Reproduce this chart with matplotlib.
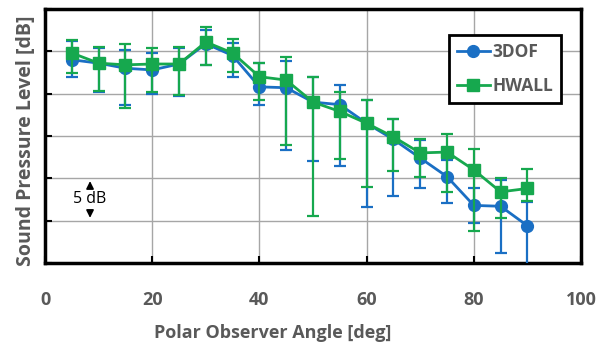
import matplotlib.pyplot as plt
from matplotlib.lines import Line2D
import numpy as np

angle = [5, 10, 15, 20, 25, 30, 35, 40, 45, 50, 55, 60, 65, 70, 75, 80, 85, 90]

# 3DOF
spl_3dof = [24.0, 23.6, 23.0, 22.8, 23.5, 25.9, 24.5, 20.8, 20.7, 19.0, 18.7, 16.5, 14.6, 12.4, 10.2, 6.8, 6.7, 4.4]
hi_3dof = [26.2, 25.4, 25.1, 24.8, 25.4, 27.5, 26.0, 23.6, 23.8, 22.0, 21.0, 19.2, 17.0, 14.5, 12.2, 8.9, 9.8, 7.2]
lo_3dof = [22.0, 20.2, 18.7, 19.9, 19.7, 23.4, 22.0, 18.7, 13.3, 12.1, 11.4, 6.6, 7.9, 8.9, 7.1, 4.7, 1.2, -0.5]

# HWALL
spl_hwall = [24.8, 23.6, 23.4, 23.5, 23.5, 26.1, 24.8, 22.0, 21.6, 19.0, 17.9, 16.5, 14.9, 13.0, 13.1, 11.0, 8.4, 8.8]
hi_hwall = [26.3, 25.5, 25.9, 25.4, 25.5, 27.9, 26.4, 23.6, 24.3, 22.0, 20.2, 19.2, 17.0, 14.6, 15.2, 13.5, 10.0, 11.1]
lo_hwall = [22.4, 20.3, 18.3, 20.2, 19.8, 23.4, 22.6, 19.2, 13.9, 5.5, 12.3, 9.0, 10.9, 10.2, 8.4, 3.8, 5.3, 7.3]

blue = '#1a6fc4'
green = '#16a84e'
grey = '#595959'

plt.rcParams['font.family'] = ['Open Sans', 'DejaVu Sans']

fig = plt.figure(figsize=(6.01, 3.45), dpi=100)
ax = fig.add_axes([0.0749, 0.2377, 0.8918, 0.7363])

y1 = np.array(spl_3dof)
y2 = np.array(spl_hwall)
err1 = [y1 - np.array(lo_3dof), np.array(hi_3dof) - y1]
err2 = [y2 - np.array(lo_hwall), np.array(hi_hwall) - y2]

ax.errorbar(angle, y1, yerr=err1, color=blue, marker='o', markersize=8.5, lw=2,
            elinewidth=1.6, capsize=4, capthick=1.6, zorder=3)
ax.errorbar(angle, y2, yerr=err2, color=green, marker='s', markersize=8.5, lw=2,
            elinewidth=1.6, capsize=4, capthick=1.6, zorder=4)

ax.set_xlim(0, 100)
ax.set_ylim(0, 30)
ax.set_xticks(range(0, 101, 20))
ax.set_yticks(range(0, 31, 5))
ax.set_yticklabels([])
ax.grid(True, color='#a6a6a6', lw=1)
ax.set_axisbelow(True)
ax.tick_params(direction='in', length=5, width=1.5, colors='black',
               labelcolor=grey, labelsize=13, pad=20)
for lab in ax.get_xticklabels():
    lab.set_fontweight('bold')
for s in ax.spines.values():
    s.set_linewidth(2.5)
    s.set_color('black')

ax.set_xlabel('Polar Observer Angle [deg]', fontsize=13, fontweight='bold', color=grey)
ax.xaxis.set_label_coords(0.424, -0.24)
ax.set_ylabel('Sound Pressure Level [dB]', fontsize=14, fontweight='bold', color=grey)
ax.yaxis.set_label_coords(-0.016, 0.48)

# 5 dB scale marker
ax.annotate('', xy=(8.4, 10.0), xytext=(8.4, 8.7),
            arrowprops=dict(arrowstyle='-|>', color='black', lw=1.2, mutation_scale=11))
ax.annotate('', xy=(8.4, 5.0), xytext=(8.4, 6.3),
            arrowprops=dict(arrowstyle='-|>', color='black', lw=1.2, mutation_scale=11))
ax.text(8.4, 7.5, '5 dB', ha='center', va='center', fontsize=11.5, color='black')

handles = [Line2D([], [], color=blue, marker='o', markersize=8.5, lw=2),
           Line2D([], [], color=green, marker='s', markersize=8.5, lw=2)]
leg = ax.legend(handles, ['3DOF', 'HWALL'], loc='upper right', bbox_to_anchor=(0.963, 0.898),
                prop={'weight': 'bold', 'size': 12.5}, fancybox=False, framealpha=1,
                handlelength=1.9, borderpad=0.45, labelspacing=0.95, handletextpad=0.15,
                borderaxespad=0)
leg.get_frame().set_edgecolor('black')
leg.get_frame().set_linewidth(2)
for t in leg.get_texts():
    t.set_color(grey)

fig.savefig('out.png', dpi=100)
